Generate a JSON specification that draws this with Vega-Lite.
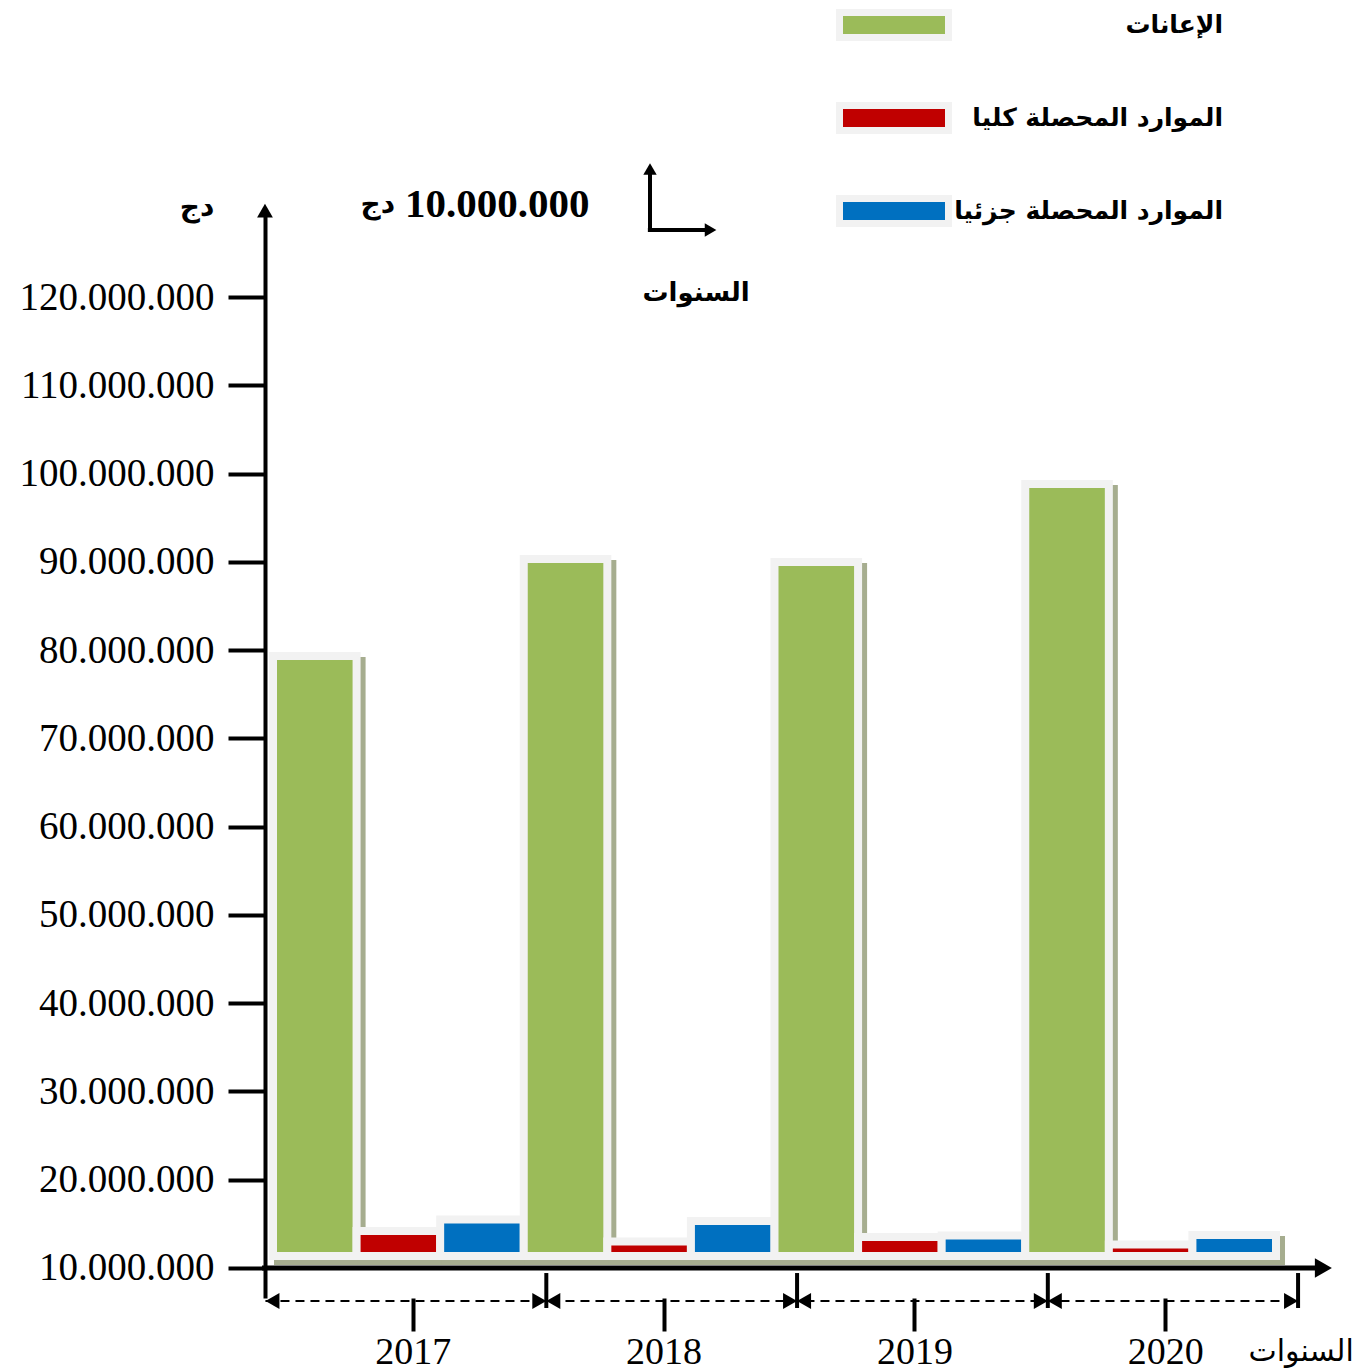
{
  "$schema": "https://vega.github.io/schema/vega-lite/v6.json",
  "width": 1019,
  "height": 1088,
  "autosize": {"type": "none"},
  "padding": {"left": 265, "top": 210, "right": 75, "bottom": 74},
  "background": "white",
  "config": {
    "view": {"stroke": null},
    "locale": {"number": {"decimal": ",", "thousands": ".", "grouping": [3], "currency": ["", ""]}}
  },
  "datasets": {
    "bars": [
      {"year": "2017", "series": "الإعانات", "value": 79330000},
      {"year": "2017", "series": "الموارد المحصلة كليا", "value": 14190000},
      {"year": "2017", "series": "الموارد المحصلة جزئيا", "value": 15490000},
      {"year": "2018", "series": "الإعانات", "value": 90320000},
      {"year": "2018", "series": "الموارد المحصلة كليا", "value": 13000000},
      {"year": "2018", "series": "الموارد المحصلة جزئيا", "value": 15320000},
      {"year": "2019", "series": "الإعانات", "value": 89980000},
      {"year": "2019", "series": "الموارد المحصلة كليا", "value": 13510000},
      {"year": "2019", "series": "الموارد المحصلة جزئيا", "value": 13680000},
      {"year": "2020", "series": "الإعانات", "value": 98820000},
      {"year": "2020", "series": "الموارد المحصلة كليا", "value": 12650000},
      {"year": "2020", "series": "الموارد المحصلة جزئيا", "value": 13740000}
    ],
    "bounds": [{"year": "2018"}, {"year": "2019"}, {"year": "2020"}],
    "one": [{"k": 1}]
  },
  "resolve": {"scale": {"xOffset": "independent"}},
  "layer": [
    {
      "data": {"name": "bars"},
      "mark": {"type": "bar", "color": "#a6ad8f", "stroke": "#a6ad8f", "strokeWidth": 8, "yOffset": 5, "y2Offset": 5},
      "encoding": {
        "x": {"field": "year", "type": "nominal"},
        "xOffset": {"field": "series", "type": "nominal", "sort": ["الإعانات", "الموارد المحصلة كليا", "الموارد المحصلة جزئيا"], "scale": {"paddingInner": 0, "paddingOuter": 0, "range": [5, 255.76]}},
        "y": {"field": "value", "type": "quantitative"},
        "y2": {"datum": 11360000}
      }
    },
    {
      "data": {"name": "bars"},
      "mark": {"type": "bar", "stroke": "#f2f2f2", "strokeWidth": 8, "opacity": 1},
      "encoding": {
        "x": {
          "field": "year", "type": "nominal",
          "scale": {"paddingInner": 0, "paddingOuter": 0.0319},
          "axis": {
            "title": null, "domain": false, "grid": false, "labelAngle": 0,
            "bandPosition": 0.56, "tickSize": 33, "tickWidth": 4, "tickColor": "black",
            "labelFont": "Liberation Serif", "labelFontSize": 38, "labelColor": "black",
            "labelAlign": "center", "labelBaseline": "top", "labelPadding": 2, "labelOffset": 15
          }
        },
        "xOffset": {"field": "series", "type": "nominal", "sort": ["الإعانات", "الموارد المحصلة كليا", "الموارد المحصلة جزئيا"], "scale": {"paddingInner": 0, "paddingOuter": 0}},
        "y": {
          "field": "value", "type": "quantitative",
          "scale": {"domain": [6601000, 129860000], "nice": false, "zero": false},
          "axis": {
            "title": null, "grid": false,
            "values": [10000000, 20000000, 30000000, 40000000, 50000000, 60000000, 70000000, 80000000, 90000000, 100000000, 110000000, 120000000],
            "format": ",d",
            "domainColor": "black", "domainWidth": 4,
            "tickSize": 37, "tickWidth": 4, "tickColor": "black",
            "labelFont": "Liberation Serif", "labelFontSize": 39, "labelColor": "black", "labelPadding": 14, "labelLimit": 400
          }
        },
        "y2": {"datum": 11360000},
        "color": {
          "field": "series", "type": "nominal",
          "scale": {"domain": ["الإعانات", "الموارد المحصلة كليا", "الموارد المحصلة جزئيا"], "range": ["#9bbb59", "#c00000", "#0070c0"]},
          "legend": {
            "orient": "none", "legendX": 571, "legendY": -243, "title": null, "padding": 0,
            "symbolType": "M-1,-0.229H1V0.229H-1Z", "symbolSize": 11881,
            "symbolStrokeColor": "#f2f2f2", "symbolStrokeWidth": 7, "symbolOpacity": 1,
            "labelFont": "DejaVu Sans", "labelFontWeight": "bold", "labelFontSize": 25, "labelColor": "black",
            "labelAlign": "right", "labelOffset": 271, "labelLimit": 500, "rowPadding": 8
          }
        }
      }
    },
    {
      "data": {"name": "one"},
      "mark": {"type": "rule", "color": "black", "strokeWidth": 5},
      "encoding": {
        "x": {"datum": "2017", "type": "nominal", "bandPosition": -0.044},
        "x2": {"datum": "2020", "bandPosition": 1.17},
        "y": {"datum": 10000000, "type": "quantitative"}
      }
    },
    {
      "data": {"name": "one"},
      "mark": {"type": "point", "shape": "triangle-right", "filled": true, "color": "black", "opacity": 1, "size": 385},
      "encoding": {
        "x": {"datum": "2020", "type": "nominal", "bandPosition": 1.189},
        "y": {"datum": 10000000, "type": "quantitative"}
      }
    },
    {
      "data": {"name": "one"},
      "mark": {"type": "point", "shape": "triangle-up", "filled": true, "color": "black", "opacity": 1, "size": 250},
      "encoding": {
        "x": {"datum": "2017", "type": "nominal", "bandPosition": -0.032},
        "y": {"datum": 129800000, "type": "quantitative"}
      }
    },
    {
      "data": {"name": "bounds"},
      "mark": {"type": "rule", "color": "black", "strokeWidth": 4},
      "encoding": {
        "x": {"field": "year", "type": "nominal", "bandPosition": 0.09},
        "y": {"datum": 9430000, "type": "quantitative"},
        "y2": {"datum": 5470000}
      }
    },
    {
      "data": {"name": "one"},
      "mark": {"type": "rule", "color": "black", "strokeWidth": 4},
      "encoding": {
        "x": {"datum": "2020", "type": "nominal", "bandPosition": 1.088},
        "y": {"datum": 9430000, "type": "quantitative"},
        "y2": {"datum": 5470000}
      }
    },
    {
      "data": {"name": "one"},
      "mark": {"type": "rule", "color": "black", "strokeWidth": 2, "strokeDash": [9, 6]},
      "encoding": {
        "x": {"datum": "2017", "type": "nominal", "bandPosition": -0.03},
        "x2": {"datum": "2020", "bandPosition": 1.088},
        "y": {"datum": 6260000, "type": "quantitative"}
      }
    },
    {
      "data": {"name": "bounds"},
      "mark": {"type": "point", "shape": "triangle-right", "filled": true, "color": "black", "opacity": 1, "size": 260, "xOffset": -7},
      "encoding": {
        "x": {"field": "year", "type": "nominal", "bandPosition": 0.09},
        "y": {"datum": 6260000, "type": "quantitative"}
      }
    },
    {
      "data": {"name": "bounds"},
      "mark": {"type": "point", "shape": "triangle-left", "filled": true, "color": "black", "opacity": 1, "size": 260, "xOffset": 7},
      "encoding": {
        "x": {"field": "year", "type": "nominal", "bandPosition": 0.09},
        "y": {"datum": 6260000, "type": "quantitative"}
      }
    },
    {
      "data": {"name": "one"},
      "mark": {"type": "point", "shape": "triangle-right", "filled": true, "color": "black", "opacity": 1, "size": 260, "xOffset": -7},
      "encoding": {
        "x": {"datum": "2020", "type": "nominal", "bandPosition": 1.088},
        "y": {"datum": 6260000, "type": "quantitative"}
      }
    },
    {
      "data": {"name": "one"},
      "mark": {"type": "point", "shape": "triangle-left", "filled": true, "color": "black", "opacity": 1, "size": 260, "xOffset": 7},
      "encoding": {
        "x": {"datum": "2017", "type": "nominal", "bandPosition": -0.03},
        "y": {"datum": 6260000, "type": "quantitative"}
      }
    },
    {
      "data": {"name": "one"},
      "mark": {"type": "rule", "color": "black", "strokeWidth": 4},
      "encoding": {
        "x": {"datum": "2018", "type": "nominal", "bandPosition": 0.5035},
        "y": {"datum": 127370000, "type": "quantitative"},
        "y2": {"datum": 134300000}
      }
    },
    {
      "data": {"name": "one"},
      "mark": {"type": "rule", "color": "black", "strokeWidth": 4},
      "encoding": {
        "x": {"datum": "2018", "type": "nominal", "bandPosition": 0.495},
        "x2": {"datum": "2018", "bandPosition": 0.735},
        "y": {"datum": 127590000, "type": "quantitative"}
      }
    },
    {
      "data": {"name": "one"},
      "mark": {"type": "point", "shape": "triangle-up", "filled": true, "color": "black", "opacity": 1, "size": 180},
      "encoding": {
        "x": {"datum": "2018", "type": "nominal", "bandPosition": 0.5035},
        "y": {"datum": 134500000, "type": "quantitative"}
      }
    },
    {
      "data": {"name": "one"},
      "mark": {"type": "point", "shape": "triangle-right", "filled": true, "color": "black", "opacity": 1, "size": 180},
      "encoding": {
        "x": {"datum": "2018", "type": "nominal", "bandPosition": 0.745},
        "y": {"datum": 127590000, "type": "quantitative"}
      }
    },
    {
      "data": {"values": [{"t": "دج"}]},
      "mark": {"type": "text", "font": "DejaVu Sans", "fontWeight": "bold", "fontSize": 28, "align": "center", "baseline": "middle", "color": "black"},
      "encoding": {
        "x": {"datum": "2017", "type": "nominal", "bandPosition": -0.303},
        "y": {"datum": 130090000, "type": "quantitative"},
        "text": {"field": "t"}
      }
    },
    {
      "data": {"values": [{"t": "10.000.000"}]},
      "mark": {"type": "text", "font": "Liberation Serif", "fontWeight": "bold", "fontSize": 41, "align": "left", "baseline": "middle", "color": "black"},
      "encoding": {
        "x": {"datum": "2017", "type": "nominal", "bandPosition": 0.526},
        "y": {"datum": 130430000, "type": "quantitative"},
        "text": {"field": "t"}
      }
    },
    {
      "data": {"values": [{"t": "دج"}]},
      "mark": {"type": "text", "font": "DejaVu Sans", "fontWeight": "bold", "fontSize": 28, "align": "right", "baseline": "middle", "color": "black"},
      "encoding": {
        "x": {"datum": "2017", "type": "nominal", "bandPosition": 0.487},
        "y": {"datum": 130430000, "type": "quantitative"},
        "text": {"field": "t"}
      }
    },
    {
      "data": {"values": [{"t": "السنوات"}]},
      "mark": {"type": "text", "font": "DejaVu Sans", "fontWeight": "bold", "fontSize": 26, "align": "center", "baseline": "middle", "color": "black"},
      "encoding": {
        "x": {"datum": "2018", "type": "nominal", "bandPosition": 0.687},
        "y": {"datum": 120460000, "type": "quantitative"},
        "text": {"field": "t"}
      }
    },
    {
      "data": {"values": [{"t": "السنوات"}]},
      "mark": {"type": "text", "font": "DejaVu Sans", "fontSize": 30, "align": "center", "baseline": "middle", "color": "black"},
      "encoding": {
        "x": {"datum": "2020", "type": "nominal", "bandPosition": 1.10},
        "y": {"datum": 484000, "type": "quantitative"},
        "text": {"field": "t"}
      }
    }
  ]
}
